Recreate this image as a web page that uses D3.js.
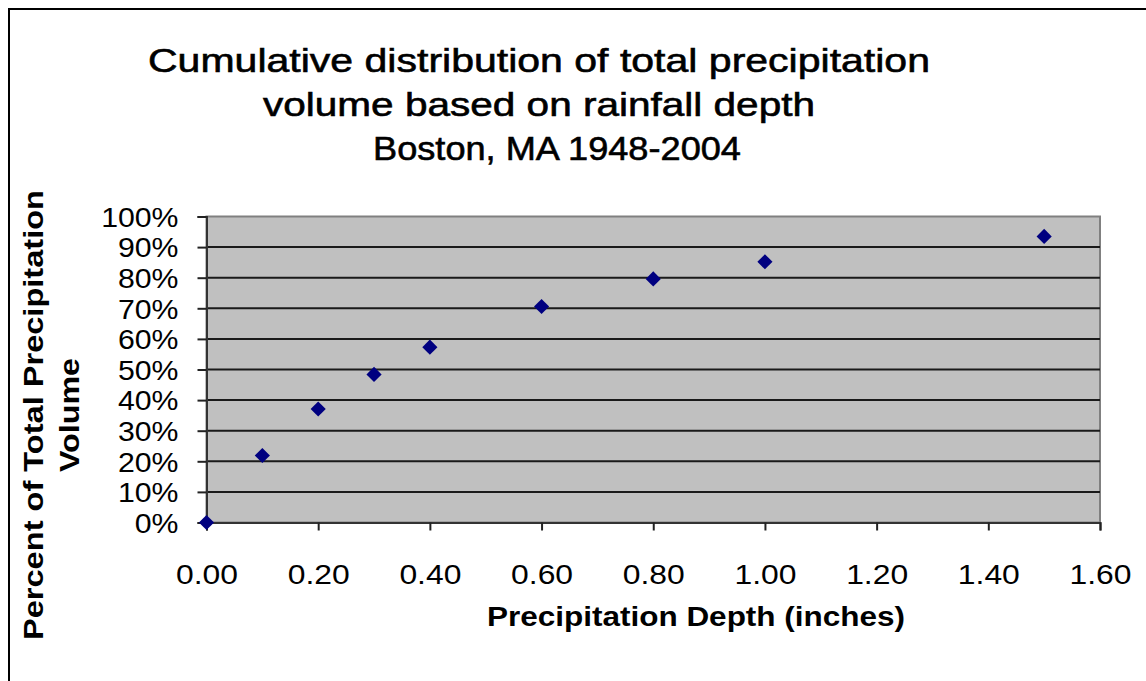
<!DOCTYPE html>
<html>
<head>
<meta charset="utf-8">
<script src="https://cdn.jsdelivr.net/npm/d3@7"></script>
<style>
  body { margin: 0; background: #fff; }
  text { font-family: "Liberation Sans", Arial, sans-serif; fill: #000; }
</style>
</head>
<body>
<div id="chart"></div>
<script>
// depth (inches) and cumulative share of total volume
const depths = [0.0, 0.1, 0.2, 0.3, 0.4, 0.6, 0.8, 1.0, 1.5];
const percents = [0.0, 0.219, 0.371, 0.484, 0.573, 0.706, 0.796, 0.852, 0.935];
const xTicks = [0, 0.2, 0.4, 0.6, 0.8, 1.0, 1.2, 1.4, 1.6];
const yTicks = [0, 0.1, 0.2, 0.3, 0.4, 0.5, 0.6, 0.7, 0.8, 0.9, 1.0];
const titleLines = ["Cumulative distribution of total precipitation",
                    "volume based on rainfall depth",
                    "Boston, MA 1948-2004"];
const yTitleLines = ["Percent of Total Precipitation", "Volume"];
const xTitle = "Precipitation Depth (inches)";

const W = 1146, H = 681;
const plot = { left: 206.5, top: 216.5, right: 1100, bottom: 522.5 };

// the reference text is drawn a bit wider than Liberation Sans
function stretch(sel, k) {
  sel.each(function() {
    const len = this.getComputedTextLength();
    d3.select(this)
      .attr("textLength", len * k)
      .attr("lengthAdjust", "spacingAndGlyphs");
  });
}

const svg = d3.select("#chart").append("svg")
  .attr("width", W).attr("height", H);

// outer chart border
svg.append("rect")
  .attr("x", 9).attr("y", 9)
  .attr("width", W).attr("height", H)
  .attr("fill", "#fff")
  .attr("stroke", "#000")
  .attr("stroke-width", 2);

const x = d3.scaleLinear().domain([0, 1.6]).range([plot.left, plot.right]);
const y = d3.scaleLinear().domain([0, 1]).range([plot.bottom, plot.top]);

// plot area
svg.append("rect")
  .attr("x", plot.left).attr("y", plot.top)
  .attr("width", plot.right - plot.left)
  .attr("height", plot.bottom - plot.top)
  .attr("fill", "#c0c0c0")
  .attr("stroke", "#808080")
  .attr("stroke-width", 2);

// gridlines
svg.append("g")
  .selectAll("line")
  .data(yTicks.filter(d => d > 0 && d < 1))
  .enter().append("line")
  .attr("x1", plot.left).attr("x2", plot.right)
  .attr("y1", d => y(d)).attr("y2", d => y(d))
  .attr("stroke", "#1a1a1a")
  .attr("stroke-width", 2);

// y axis
const yAxis = svg.append("g")
  .attr("transform", `translate(${plot.left},0)`)
  .call(d3.axisLeft(y).tickValues(yTicks).tickFormat(d3.format(".0%"))
    .tickSize(9).tickPadding(19));
yAxis.select(".domain").attr("stroke", "#333").attr("stroke-width", 2);
yAxis.selectAll(".tick line").attr("stroke", "#222").attr("stroke-width", 2);
yAxis.selectAll(".tick text")
  .attr("font-size", 27)
  .attr("font-family", "Liberation Sans, Arial, sans-serif")
  .attr("fill", "#000")
  .attr("dy", "0.36em")
  .call(stretch, 1.12);

// x axis
const xAxis = svg.append("g")
  .attr("transform", `translate(0,${plot.bottom})`)
  .call(d3.axisBottom(x).tickValues(xTicks).tickFormat(d3.format(".2f"))
    .tickSize(8).tickPadding(34));
xAxis.select(".domain").attr("stroke", "#333").attr("stroke-width", 2);
xAxis.selectAll(".tick line").attr("stroke", "#222").attr("stroke-width", 2);
xAxis.selectAll(".tick text")
  .attr("font-size", 27)
  .attr("font-family", "Liberation Sans, Arial, sans-serif")
  .attr("fill", "#000")
  .attr("dy", "0.71em")
  .call(stretch, 1.18);

// points
const diamond = d3.symbol().type(d3.symbolSquare).size(115);
svg.append("g")
  .selectAll("path")
  .data(depths.map((d, i) => ({ depth: d, pct: percents[i] })))
  .enter().append("path")
  .attr("d", diamond)
  .attr("transform", d => `translate(${x(d.depth)},${y(d.pct)}) rotate(45)`)
  .attr("fill", "#000080");

// title
const titleWidths = [782, 552, 368];
const titleCenters = [539, 539, 557];
svg.append("g")
  .selectAll("text")
  .data(titleLines)
  .enter().append("text")
  .attr("x", (d, i) => titleCenters[i])
  .attr("y", (d, i) => 72 + i * 44)
  .attr("text-anchor", "middle")
  .attr("font-size", 34)
  .attr("stroke", "#000")
  .attr("stroke-width", 0.6)
  .attr("textLength", (d, i) => titleWidths[i])
  .attr("lengthAdjust", "spacingAndGlyphs")
  .text(d => d);

// y title
const yTitleWidths = [450, 114];
svg.append("g")
  .attr("transform", "translate(0,415) rotate(-90)")
  .selectAll("text")
  .data(yTitleLines)
  .enter().append("text")
  .attr("x", 0)
  .attr("y", (d, i) => 43 + i * 36)
  .attr("text-anchor", "middle")
  .attr("font-size", 27)
  .attr("font-weight", "bold")
  .attr("textLength", (d, i) => yTitleWidths[i])
  .attr("lengthAdjust", "spacingAndGlyphs")
  .text(d => d);

// x title
svg.append("text")
  .attr("x", 696).attr("y", 626)
  .attr("text-anchor", "middle")
  .attr("font-size", 27)
  .attr("font-weight", "bold")
  .attr("textLength", 418)
  .attr("lengthAdjust", "spacingAndGlyphs")
  .text(xTitle);
</script>
</body>
</html>
